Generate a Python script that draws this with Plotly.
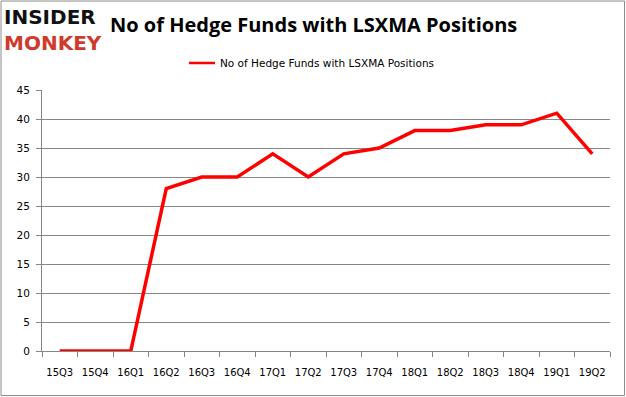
import plotly.graph_objects as go

quarters = ["15Q3", "15Q4", "16Q1", "16Q2", "16Q3", "16Q4", "17Q1", "17Q2",
            "17Q3", "17Q4", "18Q1", "18Q2", "18Q3", "18Q4", "19Q1", "19Q2"]
funds = [0, 0, 0, 28, 30, 30, 34, 30, 34, 35, 38, 38, 39, 39, 41, 34]
series_name = "No of Hedge Funds with LSXMA Positions"
title_text = "No of Hedge Funds with LSXMA Positions"

W, H = 626, 397
L, R, T, B = 42, 16, 90, 46
pw, ph = W - L - R, H - T - B

def px(x):
    return (x - L) / pw

def py(y):
    return (H - B - y) / ph

fig = go.Figure()
fig.add_trace(go.Scatter(x=quarters, y=funds, mode="lines", name=series_name,
                         line=dict(color="#ff0000", width=3.5)))

fig.update_layout(
    width=W, height=H,
    margin=dict(l=L, r=R, t=T, b=B, autoexpand=False),
    paper_bgcolor="white", plot_bgcolor="white",
    showlegend=False,
    font=dict(family="DejaVu Sans", size=10, color="#000000"),
)
fig.update_xaxes(type="category", tickson="boundaries", ticks="outside", ticklen=5,
                 tickcolor="#868686", showline=True, linecolor="#868686", linewidth=1,
                 showgrid=False, tickfont=dict(size=10), tickangle=0, automargin=False,
                 ticklabelstandoff=12, range=[-0.5, 15.5])
fig.update_yaxes(range=[0, 45], dtick=5, ticks="outside", ticklen=5, tickcolor="#868686",
                 showline=True, linecolor="#868686", linewidth=1, showgrid=True,
                 gridcolor="#868686", gridwidth=1, zeroline=False, tickfont=dict(size=10.5),
                 ticklabelstandoff=4, automargin=False)

# outer border
fig.add_shape(type="rect", xref="paper", yref="paper",
              x0=px(1), x1=px(W - 1.5), y0=py(H - 1.5), y1=py(1),
              line=dict(color="#8c8c8c", width=1), fillcolor="rgba(0,0,0,0)")

# title
fig.add_annotation(text="<b>" + title_text + "</b>", xref="paper", yref="paper", x=px(313), y=py(25),
                   showarrow=False, xanchor="center", yanchor="middle",
                   font=dict(family="Open Sans", size=20, color="#000000"))

# legend
fig.add_shape(type="line", xref="paper", yref="paper", x0=px(189), x1=px(215),
              y0=py(63), y1=py(63), line=dict(color="#ff0000", width=2.5))
fig.add_annotation(text=series_name, xref="paper", yref="paper", x=px(218), y=py(63),
                   showarrow=False, xanchor="left", yanchor="middle",
                   font=dict(family="DejaVu Sans", size=10.5, color="#000000"))

# logo
fig.add_annotation(text="<b>INSIDER</b><br><b><span style='color:#d03a2a'>MONKEY</span></b>",
                   xref="paper", yref="paper", x=px(3), y=py(30),
                   showarrow=False, xanchor="left", yanchor="middle", align="left", borderpad=0,
                   font=dict(family="DejaVu Sans", size=20, color="#111111"))

fig.write_html("out.html", config={"displayModeBar": False},
               post_script="document.body.style.margin='0';")
